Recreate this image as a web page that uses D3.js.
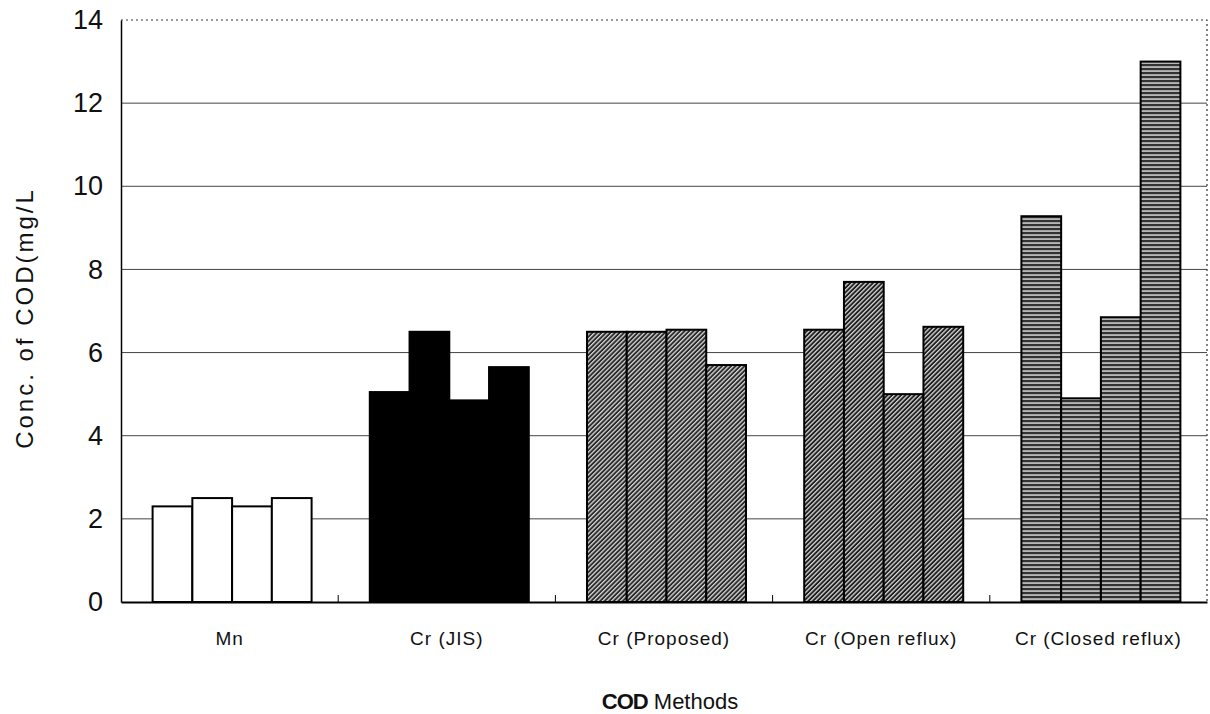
<!DOCTYPE html>
<html lang="en">
<head>
	<meta charset="UTF-8">
	<title>COD Methods</title>
	<script src="https://cdn.jsdelivr.net/npm/d3@7"></script>
	<style>
		body{ margin:0; background:#fff; }
		text{ font-family:"Liberation Sans", Arial, sans-serif; fill:#111; }
	</style>
</head>
<body>
	<svg id="svg"></svg>
	<script>
		var methods = ["Mn", "Cr (JIS)", "Cr (Proposed)", "Cr (Open reflux)", "Cr (Closed reflux)"];
		var runs = ["r1", "r2", "r3", "r4"];
		var mnValues = [2.3, 2.5, 2.3, 2.5];
		var jisValues = [5.05, 6.5, 4.85, 5.65];
		var proposedValues = [6.5, 6.5, 6.55, 5.7];
		var openValues = [6.55, 7.7, 5.0, 6.62];
		var closedValues = [9.28, 4.9, 6.85, 13.0];
		var yTicks = [0, 2, 4, 6, 8, 10, 12, 14];
		var fills = ["#fff", "#000", "url(#hatch)", "url(#hatch2)", "url(#stripe)"];

		var allValues = [mnValues, jisValues, proposedValues, openValues, closedValues];

		var w = 1210, h = 714,
			mLeft = 121, mRight = 1207, mTop = 20, mBottom = 602;
		var svg = d3.select("#svg").attr("width", w).attr("height", h);

		var defs = svg.append("defs");
		// diagonal hatch, dark with thin light lines
		[["hatch", "#2a2a2a"], ["hatch2", "#1e1e1e"]].forEach(function(p) {
			var pat = defs.append("pattern").attr("id", p[0])
				.attr("patternUnits", "userSpaceOnUse")
				.attr("width", 3.2).attr("height", 3.2)
				.attr("patternTransform", "rotate(45)");
			pat.append("rect").attr("width", 3.2).attr("height", 3.2).attr("fill", p[1]);
			pat.append("rect").attr("width", 1.3).attr("height", 3.2).attr("fill", "#d8d8d8");
		});
		var st = defs.append("pattern").attr("id", "stripe")
			.attr("patternUnits", "userSpaceOnUse")
			.attr("width", 8).attr("height", 4);
		st.append("rect").attr("width", 8).attr("height", 4).attr("fill", "#333");
		st.append("rect").attr("y", 2.4).attr("width", 8).attr("height", 1.3).attr("fill", "#eee");

		var y = d3.scaleLinear().domain([0, 14]).range([mBottom, mTop]);
		var x = d3.scaleBand().domain(methods).range([mLeft, mRight]);
		var inner = d3.scaleBand().domain(runs).range([0, 159]);

		// grid lines
		svg.append("g").selectAll("line")
			.data(yTicks.filter(function(d) { return d > 0 && d < 14; }))
			.enter().append("line")
			.attr("x1", mLeft).attr("x2", mRight)
			.attr("y1", function(d) { return y(d); })
			.attr("y2", function(d) { return y(d); })
			.attr("stroke", "#444").attr("stroke-width", 1);

		// dotted frame top and right
		svg.append("path")
			.attr("d", "M" + mLeft + "," + y(14) + "H" + mRight + "V" + mBottom)
			.attr("fill", "none").attr("stroke", "#333")
			.attr("stroke-dasharray", "2,3").attr("stroke-width", 1.2);

		// bars
		var groups = svg.append("g").selectAll("g")
			.data(methods).enter().append("g")
			.attr("transform", function(d) {
				return "translate(" + (x(d) + x.bandwidth() / 2 - 77) + ",0)";
			});
		groups.selectAll("rect")
			.data(function(d, i) {
				return allValues[i].map(function(v, j) { return {run: runs[j], v: v, g: i}; });
			})
			.enter().append("rect")
			.attr("x", function(d) { return inner(d.run); })
			.attr("width", inner.bandwidth())
			.attr("y", function(d) { return y(d.v); })
			.attr("height", function(d) { return y(0) - y(d.v); })
			.attr("fill", function(d) { return fills[d.g]; })
			.attr("stroke", "#000").attr("stroke-width", 2);

		// y axis
		var yAxis = svg.append("g").attr("transform", "translate(" + mLeft + ",0)")
			.call(d3.axisLeft(y).tickValues(yTicks).tickSize(0).tickPadding(18));
		yAxis.select(".domain").attr("stroke", "#000").attr("stroke-width", 1.5);
		yAxis.selectAll("text").style("font-size", "27px")
			.style("font-family", "Liberation Sans, Arial, sans-serif").attr("fill", "#111");

		// x axis
		var xAxis = svg.append("g").attr("transform", "translate(0," + mBottom + ")")
			.call(d3.axisBottom(x).tickSize(0).tickPadding(30));
		xAxis.select(".domain").attr("stroke", "#000").attr("stroke-width", 2);
		xAxis.selectAll("text").style("font-size", "19px").style("letter-spacing", "1px")
			.style("font-family", "Liberation Sans, Arial, sans-serif").attr("fill", "#111");
		svg.append("g").selectAll("line")
			.data(methods.slice(1)).enter().append("line")
			.attr("x1", function(d) { return x(d); })
			.attr("x2", function(d) { return x(d); })
			.attr("y1", mBottom - 7).attr("y2", mBottom)
			.attr("stroke", "#000").attr("stroke-width", 1);

		// titles
		var xt = svg.append("text").attr("x", 670).attr("y", 709)
			.attr("text-anchor", "middle").style("font-size", "22px");
		xt.append("tspan").style("font-weight", "bold").style("letter-spacing", "-1px").text("COD");
		xt.append("tspan").text(" Methods");

		svg.append("text")
			.attr("transform", "translate(33,318) rotate(-90)")
			.attr("text-anchor", "middle").style("font-size", "24px")
			.style("letter-spacing", "3px")
			.text("Conc. of COD(mg/L");
	</script>
</body>
</html>
